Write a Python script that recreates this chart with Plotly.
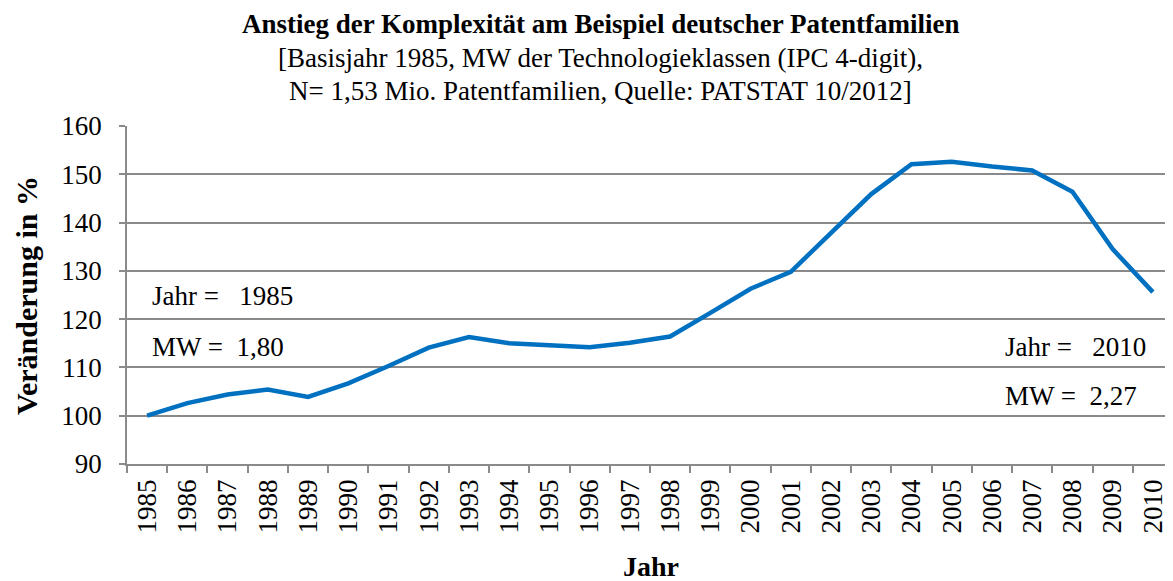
import plotly.graph_objects as go

years = [str(y) for y in range(1985, 2011)]
values = [100.0, 102.6, 104.4, 105.4, 103.9, 106.7, 110.3, 114.1, 116.3, 115.0,
          114.6, 114.2, 115.1, 116.4, 121.3, 126.3, 129.8, 138.0, 145.9, 152.1,
          152.6, 151.6, 150.8, 146.4, 134.5, 125.6]
y_ticks = [90, 100, 110, 120, 130, 140, 150, 160]

title_line1 = "Anstieg der Komplexität am Beispiel deutscher Patentfamilien"
title_line2 = "[Basisjahr 1985, MW der Technologieklassen (IPC 4-digit),"
title_line3 = "N= 1,53 Mio. Patentfamilien, Quelle: PATSTAT 10/2012]"

FONT = "Liberation Serif, Times New Roman, serif"
GRID = "#8a8a8a"
NB = "\u00a0"

# page body has an 8px margin, so the figure is drawn 8px smaller / shifted
W, H = 1165, 573
L, T, B = 119, 118, 117
PH = H - T - B          # plot height in px (338)
PW = W - L              # plot width in px (1046)
BOT = T + PH            # plot bottom in figure px


def py(fig_y):
    return (BOT - fig_y) / PH


def px(fig_x):
    return (fig_x - L) / PW


fig = go.Figure()
fig.add_trace(go.Scatter(
    x=years, y=values, mode="lines",
    line=dict(color="#0070C0", width=4.5),
    showlegend=False, hoverinfo="x+y",
))

fig.update_layout(
    width=W, height=H,
    margin=dict(l=L, r=0, t=T, b=B),
    paper_bgcolor="white", plot_bgcolor="white",
    font=dict(family=FONT, color="black", size=27),
    xaxis=dict(
        type="category", tickson="boundaries",
        ticks="outside", ticklen=7, tickwidth=1.5, tickcolor=GRID,
        showline=True, linecolor=GRID, linewidth=1.5,
        showgrid=False, tickangle=-90, ticklabelstandoff=3,
        tickfont=dict(family=FONT, size=27),
        range=[-0.5, 25.5], fixedrange=True,
    ),
    yaxis=dict(
        range=[90, 160], tickvals=y_ticks,
        ticks="outside", ticklen=6, tickwidth=1.5, tickcolor=GRID,
        showline=True, linecolor=GRID, linewidth=1.5,
        showgrid=True, gridcolor=GRID, gridwidth=1.5,
        zeroline=False, ticklabelstandoff=12,
        tickfont=dict(family=FONT, size=27),
        fixedrange=True,
    ),
)

# title lines
for txt, yy in [(f"<b>{title_line1}</b>", 16), (title_line2, 50), (title_line3, 83)]:
    fig.add_annotation(text=txt, xref="paper", yref="paper",
                       x=px(592), y=py(yy), xanchor="center", yanchor="middle",
                       showarrow=False, font=dict(family=FONT, size=27, color="black"))

annos = [
    dict(text=f"Jahr ={NB*3}1985", x=px(142), y=124.8),
    dict(text=f"MW ={NB*2}1,80", x=px(142), y=114.2),
    dict(text=f"Jahr ={NB*3}2010", x=px(995), y=114.2),
    dict(text=f"MW ={NB*2}2,27", x=px(995), y=104.0),
]
for a in annos:
    fig.add_annotation(xref="paper", yref="y", xanchor="left", yanchor="middle",
                       showarrow=False,
                       font=dict(family=FONT, size=27, color="black"), **a)

fig.add_annotation(text="<b>Veränderung in %</b>", textangle=-90,
                   xref="paper", yref="paper", x=px(18), y=py(288),
                   xanchor="center", yanchor="middle", showarrow=False,
                   font=dict(family=FONT, size=30, color="black"))
fig.add_annotation(text="<b>Jahr</b>",
                   xref="paper", yref="paper", x=px(643), y=py(558),
                   xanchor="center", yanchor="middle", showarrow=False,
                   font=dict(family=FONT, size=28, color="black"))

fig.write_html("out.html")
